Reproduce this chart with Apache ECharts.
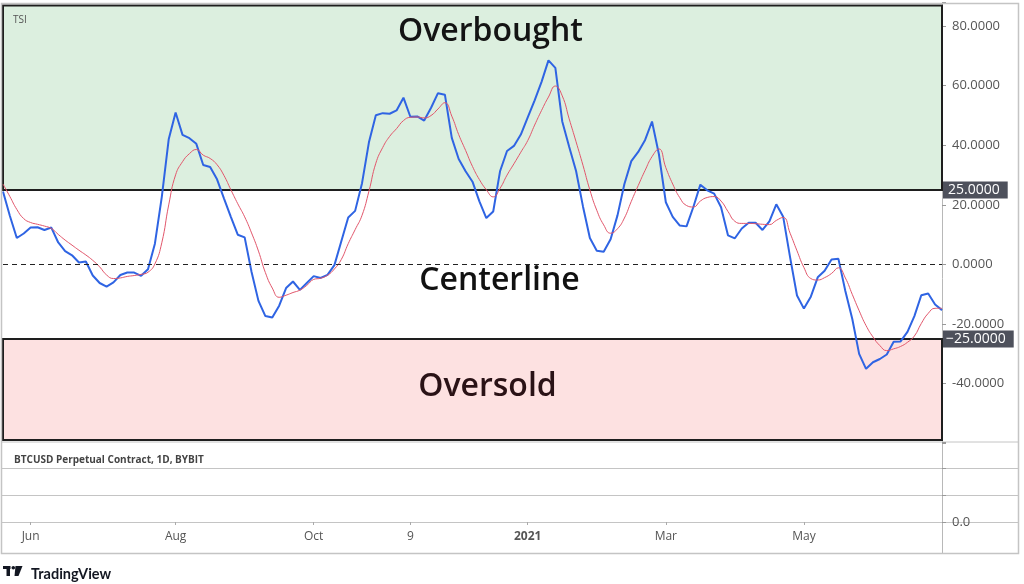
<!DOCTYPE html>
<html>
<head>
<meta charset="utf-8">
<script src="https://cdn.jsdelivr.net/npm/echarts@6/dist/echarts.min.js"></script>
<style>html,body{margin:0;padding:0;background:#fff}#c{width:1024px;height:584px}</style>
</head>
<body>
<div id="c"></div>
<script>
// sample dates: every 3 days from 2020-05-20
const startDate = new Date(Date.UTC(2020, 4, 20));
const categories = [];
for (let i = 0; i < 137; i++) {
  const d = new Date(startDate.getTime() + i * 3 * 86400000);
  categories.push(d.toISOString().slice(0, 10));
}

const tsi = [24.5,16.3,8.9,10.4,12.4,12.5,11.6,12.4,7.4,4.5,3.1,0.7,1.0,-3.7,-6.2,-7.4,-6.0,-3.5,-2.7,-2.7,
  -3.8,-1.6,7.0,22.7,42,51,43.5,42.4,40.5,33.4,32.7,28.6,22.2,16.0,10.0,9.1,-2.5,-12.2,-17.3,-17.8,
  -13.8,-7.9,-5.7,-8.5,-6.2,-3.9,-4.5,-3.5,-0.2,7.8,15.8,18.0,27.3,41,50.1,50.8,50.6,51.7,56,49.6,
  49.7,48.3,52.6,57.5,57,42.5,35.4,31.3,27.8,21.2,15.6,17.8,31.4,38.1,39.8,43.6,49.4,55.1,61.3,68.5,
  66,48,39.5,31.4,19.5,8.9,4.6,4.3,8.5,16.5,27,34.7,37.8,41.8,48,37,20.9,16,13.1,12.8,
  19.4,26.8,24.9,23.8,19.2,9.8,8.8,12.1,14,14.0,11.6,14.5,20.2,16,2.4,-10.4,-14.8,-10.8,-4.3,-2.1,
  1.7,1.9,-8.9,-18.2,-30,-35,-32.8,-31.7,-30.2,-25.9,-25.8,-22.6,-17.3,-10.3,-9.7,-13.4,-15.3];

const signal = [27,22.8,18.5,15.4,14.1,13.5,12.9,12.1,10.1,8.2,6.5,4.8,3.2,1.4,-0.8,-3.5,-4.7,-4.5,-4.0,-3.7,
  -3.3,-2.6,0.2,7.3,20,30.1,34.5,37.2,38.6,36.7,35.6,33.5,29.9,25.1,20.4,16.0,10.6,4.5,-2.7,-7.9,
  -11.0,-10.3,-9.4,-8.6,-7.0,-5.0,-4.6,-3.6,-1.5,1.7,7.0,11.7,16.5,24.6,34,39.3,43,45.6,48.3,49.4,
  49.5,49.2,50,52.2,54.3,49.8,43.6,38.3,32.9,28.5,25.1,22.7,25.6,30,33.8,37.7,41.6,46.8,51.7,56.2,
  59.9,56.6,48.9,41.2,33.3,25,18.2,13.3,10.5,12,15.6,21.2,26.5,31.6,36.2,38.8,32.5,27,22.5,19.8,
  19.3,21.3,22.5,22.8,21.3,17.8,14.5,13.8,13.8,13.7,13.5,13.4,14.8,15.8,10.5,4.6,-1.0,-4.7,-5.2,-4.4,
  -3.0,-1.1,-4.5,-10.0,-15.5,-20.5,-24.3,-27.2,-28.9,-28.3,-27.5,-26.1,-24,-19.8,-16.4,-14.7,-14.7];

const xTickIndex = [4, 25, 45, 59, 76, 96, 116];
const xTickText = ['Jun', 'Aug', 'Oct', '9', '2021', 'Mar', 'May'];

const overbought = 25, oversold = -25;
const zoneTop = 86.9, zoneBottom = -58.9;

const chart = echarts.init(document.getElementById('c'));
const FONT = 'Open Sans';
const line = (x1, y1, x2, y2, c) => ({type: 'line', shape: {x1, y1, x2, y2}, style: {stroke: c || '#c4c4c4', lineWidth: 1}, silent: true});
const BIG = 32;

chart.setOption({
  animation: false,
  backgroundColor: '#ffffff',
  textStyle: {fontFamily: FONT},
  title: [
    {text: 'TSI', left: 8, top: 10, textStyle: {fontSize: 10, fontWeight: 'normal', color: '#555', fontFamily: FONT}},
    {text: 'BTCUSD Perpetual Contract, 1D, BYBIT', left: 9, top: 450, textStyle: {fontSize: 10, fontWeight: 'bold', color: '#444', fontFamily: FONT}},
    {text: 'TradingView', left: 26, top: 562, textStyle: {fontSize: 14.5, fontWeight: 'bold', color: '#131722', fontFamily: 'Lato'}}
  ],
  graphic: [
    {type: 'rect', shape: {x: 1.5, y: 3.5, width: 1017, height: 550}, style: {fill: null, stroke: '#c4c4c4', lineWidth: 1.5}, silent: true, z: 50},
    line(942.5, 3.5, 942.5, 553.5, '#b8b8b8'),
    line(1.5, 442, 1018.5, 442),
    line(1.5, 468.5, 1018.5, 468.5),
    line(1.5, 495.5, 1018.5, 495.5),
    line(1.5, 522.5, 1018.5, 522.5),
    {type: 'rect', shape: {x: 3, y: 566, width: 7.5, height: 3}, style: {fill: '#131722'}, silent: true},
    {type: 'rect', shape: {x: 6.5, y: 566, width: 3.5, height: 10}, style: {fill: '#131722'}, silent: true},
    {type: 'circle', shape: {cx: 13.3, cy: 567.7, r: 1.8}, style: {fill: '#131722'}, silent: true},
    {type: 'polygon', shape: {points: [[15.5, 566], [22.5, 566], [18.5, 576], [14.5, 576]]}, style: {fill: '#131722'}, silent: true}
  ],
  grid: [
    {left: 3, right: 82, top: 2.3, height: 441},
    {left: 3, right: 82, top: 442, height: 80}
  ],
  xAxis: [
    {type: 'category', gridIndex: 0, data: categories, boundaryGap: false,
     axisLine: {show: false}, axisTick: {show: false}, axisLabel: {show: false}, splitLine: {show: false}},
    {type: 'category', gridIndex: 1, data: categories, boundaryGap: false,
     axisLine: {show: false},
     axisTick: {show: true, length: 3, lineStyle: {color: '#aaa'}, interval: (i) => xTickIndex.includes(i)},
     axisLabel: {
       interval: (i) => xTickIndex.includes(i),
       formatter: (v, i) => {
         const k = xTickIndex.indexOf(i);
         if (k < 0) return '';
         return xTickText[k] === '2021' ? '{b|2021}' : xTickText[k];
       },
       color: '#555', fontSize: 12, margin: 9, fontFamily: FONT,
       rich: {b: {fontWeight: 'bold', color: '#555', fontSize: 12, fontFamily: FONT}}
     },
     splitLine: {show: false}}
  ],
  yAxis: [
    {type: 'value', gridIndex: 0, position: 'right', min: -60, max: 88, interval: 20,
     axisLine: {show: false},
     axisTick: {show: true, length: 4, lineStyle: {color: '#999'}},
     axisLabel: {color: '#555', fontSize: 13, margin: 10, fontFamily: FONT,
       formatter: (v) => (v < -50 || v > 85) ? '' : v.toFixed(4)},
     splitLine: {show: false}},
    {type: 'value', gridIndex: 1, position: 'right', min: 0, max: 3, interval: 1,
     axisLine: {show: false},
     axisTick: {show: true, length: 4, lineStyle: {color: '#999'}, interval: 0},
     axisLabel: {color: '#555', fontSize: 13, margin: 10, fontFamily: FONT, verticalAlign: 'middle', padding: [0, 0, 5, 0],
       formatter: (v) => v === 0 ? '0.0' : ''},
     splitLine: {show: false}}
  ],
  series: [
    {
      name: 'zones', type: 'line', xAxisIndex: 0, yAxisIndex: 0, data: [], z: 2, silent: true,
      markArea: {
        silent: true,
        data: [
          [{xAxis: 0, yAxis: zoneTop,
            itemStyle: {color: '#dcefdf', borderColor: '#1e1e1e', borderWidth: 2},
            label: {show: true, position: 'insideTop', distance: 11, offset: [18, 0], formatter: 'Overbought',
              fontSize: BIG, fontWeight: 600, color: '#141414', fontFamily: FONT}},
           {xAxis: categories.length - 1, yAxis: overbought}],
          [{xAxis: 0, yAxis: oversold,
            itemStyle: {color: '#fde1e1', borderColor: '#1e1e1e', borderWidth: 2},
            label: {show: true, position: 'inside', offset: [15, -3], formatter: 'Oversold',
              fontSize: BIG, fontWeight: 600, color: '#2a1216', fontFamily: FONT}},
           {xAxis: categories.length - 1, yAxis: zoneBottom}]
        ]
      },
      markLine: {
        silent: true, symbol: 'none',
        data: [
          {yAxis: 0, lineStyle: {type: [5, 4], color: '#222', width: 1},
           label: {show: true, position: 'insideMiddleBottom', distance: 0, offset: [27, 0], formatter: 'Centerline',
             fontSize: BIG, fontWeight: 600, color: '#111', fontFamily: FONT}},
          {yAxis: overbought, lineStyle: {color: 'rgba(0,0,0,0)', width: 1},
           label: {show: true, position: 'end', distance: 1, formatter: '25.0000', color: '#ffffff', fontSize: 14,
             backgroundColor: '#4e515c', padding: [2, 8, 1, 5], fontFamily: FONT}},
          {yAxis: oversold, lineStyle: {color: 'rgba(0,0,0,0)', width: 1},
           label: {show: true, position: 'end', distance: 1, formatter: '\u221225.0000', color: '#ffffff', fontSize: 14,
             backgroundColor: '#4e515c', padding: [2, 8, 1, 3], fontFamily: FONT}}
        ]
      }
    },
    {name: 'TSI', type: 'line', xAxisIndex: 0, yAxisIndex: 0, data: tsi, z: 3,
     showSymbol: false, smooth: false, lineStyle: {color: '#2f64e3', width: 2}},
    {name: 'Signal', type: 'line', xAxisIndex: 0, yAxisIndex: 0, data: signal, z: 4,
     showSymbol: false, smooth: true, lineStyle: {color: '#e2566b', width: 1}}
  ]
});
</script>
</body>
</html>
